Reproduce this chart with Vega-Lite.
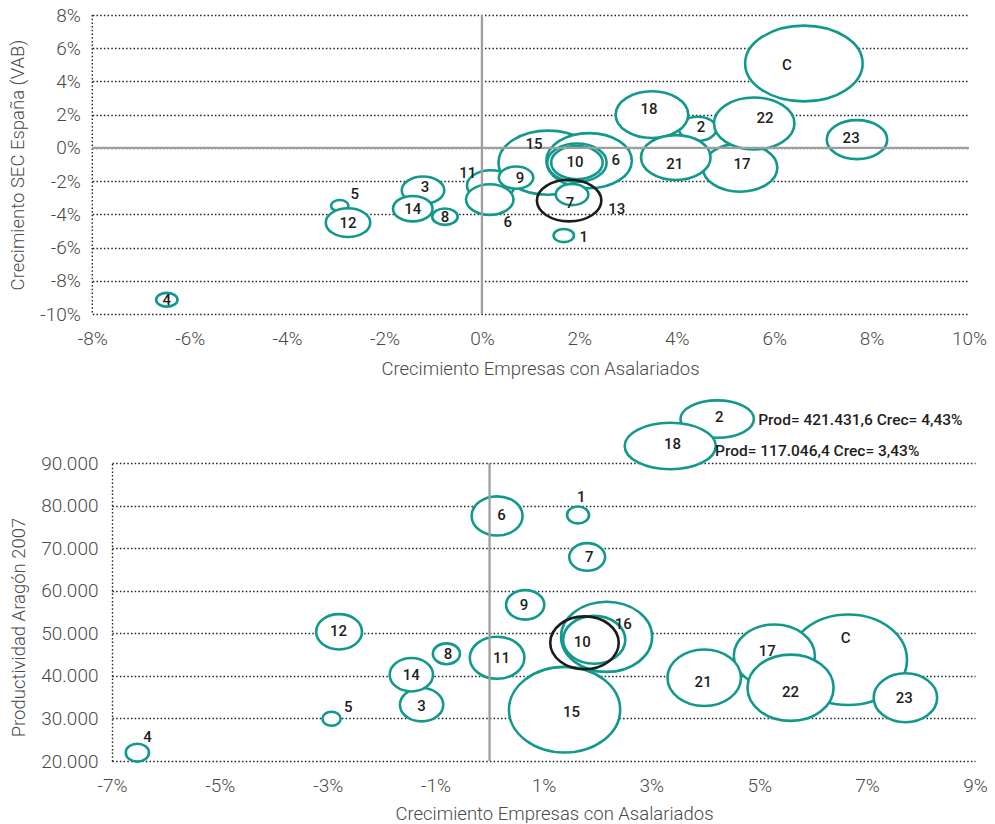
{
  "$schema": "https://vega.github.io/schema/vega-lite/v6.json",
  "padding": {"left": 8, "top": 6, "right": 5, "bottom": 0},
  "config": {
    "view": {"stroke": null},
    "font": "Roboto",
    "axis": {
      "labelFont": "Roboto", "labelFontWeight": 300, "labelFontSize": 19, "labelColor": "#4a4a4a",
      "titleFont": "Roboto", "titleFontWeight": 300, "titleFontSize": 18.5, "titleColor": "#4a4a4a",
      "ticks": false, "tickCount": 40, "labelOverlap": false, "labelFlush": false
    },
    "axisX": {"grid": false, "domain": false, "labelPadding": 15, "titlePadding": 11},
    "axisY": {
      "grid": true, "gridDash": [1.5, 2.2], "gridColor": "#222222", "gridWidth": 1.4,
      "domain": true, "domainDash": [1.5, 2.2], "domainColor": "#222222", "domainWidth": 1.4
    }
  },
  "datasets": {
    "burbujas": [
      {"id":"C","lab1":"C","lab2":"C","x1":6.61,"y1":5.08,"t1":100,"lx1":6.26,"ly1":5.02,"x2":6.65,"y2":43780,"t2":100,"lx2":6.60,"ly2":48950,"fuera":false},
      {"id":"15","lab1":"15","lab2":"15","x1":1.36,"y1":-0.89,"t1":71.7,"lx1":1.07,"ly1":0.26,"x2":1.39,"y2":32050,"t2":89.6,"lx2":1.52,"ly2":31590,"fuera":false},
      {"id":"16","lab1":"6","lab2":"16","x1":2.20,"y1":-0.77,"t1":52.9,"lx1":2.75,"ly1":-0.70,"x2":2.17,"y2":49170,"t2":60.1,"lx2":2.48,"ly2":52230,"fuera":false},
      {"id":"17","lab1":"17","lab2":"17","x1":5.30,"y1":-1.19,"t1":40.2,"lx1":5.34,"ly1":-0.95,"x2":5.28,"y2":44720,"t2":47.6,"lx2":5.15,"ly2":45900,"fuera":false},
      {"id":"2","lab1":"2","lab2":"2","x1":4.43,"y1":1.15,"t1":10.2,"lx1":4.50,"ly1":1.28,"x2":4.22,"y2":100320,"t2":39.1,"lx2":4.26,"ly2":100790,"fuera":true},
      {"id":"18","lab1":"18","lab2":"18","x1":3.49,"y1":2.0,"t1":38.1,"lx1":3.43,"ly1":2.36,"x2":3.35,"y2":93990,"t2":60.1,"lx2":3.39,"ly2":94460,"fuera":true},
      {"id":"21","lab1":"21","lab2":"21","x1":3.98,"y1":-0.58,"t1":35.0,"lx1":3.96,"ly1":-0.95,"x2":3.98,"y2":39550,"t2":39.1,"lx2":3.96,"ly2":38620,"fuera":false},
      {"id":"22","lab1":"22","lab2":"22","x1":5.59,"y1":1.47,"t1":46.9,"lx1":5.81,"ly1":1.82,"x2":5.58,"y2":37210,"t2":53.7,"lx2":5.58,"ly2":36280,"fuera":false},
      {"id":"23","lab1":"23","lab2":"23","x1":7.70,"y1":0.50,"t1":26.5,"lx1":7.58,"ly1":0.62,"x2":7.71,"y2":34860,"t2":29.2,"lx2":7.69,"ly2":34870,"fuera":false},
      {"id":"11","lab1":"11","lab2":"11","x1":0.18,"y1":-2.27,"t1":16.3,"lx1":-0.29,"ly1":-1.49,"x2":0.14,"y2":44250,"t2":21.6,"lx2":0.22,"ly2":44250,"fuera":false},
      {"id":"6","lab1":"6","lab2":"6","x1":0.16,"y1":-3.11,"t1":16.3,"lx1":0.53,"ly1":-4.44,"x2":0.14,"y2":77560,"t2":18.8,"lx2":0.22,"ly2":77800,"fuera":false},
      {"id":"9","lab1":"9","lab2":"9","x1":0.70,"y1":-1.79,"t1":8.6,"lx1":0.78,"ly1":-1.79,"x2":0.66,"y2":56680,"t2":10.6,"lx2":0.64,"ly2":56690,"fuera":false},
      {"id":"10b","lab1":"","lab2":"","x1":1.95,"y1":-0.89,"t1":25.6,"lx1":1.95,"ly1":-0.89,"x2":null,"y2":null,"t2":null,"lx2":null,"ly2":null,"fuera":false},
      {"id":"10","lab1":"10","lab2":"10","x1":1.95,"y1":-0.89,"t1":19.2,"lx1":1.91,"ly1":-0.83,"x2":1.94,"y2":48470,"t2":28.0,"lx2":1.72,"ly2":48010,"fuera":false},
      {"id":"7","lab1":"7","lab2":"7","x1":1.85,"y1":-2.81,"t1":7.7,"lx1":1.81,"ly1":-3.3,"x2":1.81,"y2":67940,"t2":9.3,"lx2":1.85,"ly2":67950,"fuera":false},
      {"id":"1","lab1":"1","lab2":"1","x1":1.68,"y1":-5.28,"t1":3.0,"lx1":2.09,"ly1":-5.34,"x2":1.64,"y2":77800,"t2":3.5,"lx2":1.70,"ly2":82020,"fuera":false},
      {"id":"5","lab1":"5","lab2":"5","x1":-2.92,"y1":-3.48,"t1":2.2,"lx1":-2.61,"ly1":-2.76,"x2":-2.93,"y2":29930,"t2":2.4,"lx2":-2.62,"ly2":32760,"fuera":false},
      {"id":"12","lab1":"12","lab2":"12","x1":-2.75,"y1":-4.5,"t1":14.3,"lx1":-2.75,"ly1":-4.5,"x2":-2.79,"y2":50350,"t2":15.2,"lx2":-2.80,"ly2":50590,"fuera":false},
      {"id":"3","lab1":"3","lab2":"3","x1":-1.21,"y1":-2.55,"t1":13.1,"lx1":-1.17,"ly1":-2.33,"x2":-1.26,"y2":33220,"t2":13.6,"lx2":-1.26,"ly2":32990,"fuera":false},
      {"id":"14","lab1":"14","lab2":"14","x1":-1.42,"y1":-3.66,"t1":11.3,"lx1":-1.42,"ly1":-3.66,"x2":-1.45,"y2":40260,"t2":13.6,"lx2":-1.45,"ly2":40260,"fuera":false},
      {"id":"8","lab1":"8","lab2":"8","x1":-0.76,"y1":-4.14,"t1":4.7,"lx1":-0.76,"ly1":-4.14,"x2":-0.80,"y2":45190,"t2":5.3,"lx2":-0.77,"ly2":45190,"fuera":false},
      {"id":"4","lab1":"4","lab2":"4","x1":-6.47,"y1":-9.14,"t1":3.3,"lx1":-6.47,"ly1":-9.14,"x2":-6.53,"y2":21960,"t2":3.9,"lx2":-6.34,"ly2":25720,"fuera":false},
      {"id":"13","lab1":"13","lab2":"","x1":1.79,"y1":-3.17,"t1":30.1,"lx1":2.77,"ly1":-3.66,"x2":1.76,"y2":47770,"t2":34.0,"lx2":1.76,"ly2":47770,"fuera":false}
    ],
    "notas": [
      {"texto": "Prod= 421.431,6 Crec= 4,43%", "x": 4.98, "y": 100090},
      {"texto": "Prod= 117.046,4 Crec= 3,43%", "x": 4.18, "y": 92820}
    ]
  },
  "spacing": 17,
  "vconcat": [
    {
      "width": 857,
      "height": 299,
      "data": {"name": "burbujas"},
      "layer": [
        {
          "data": {"values": [{"v": -8}]},
          "mark": {"type": "rule", "color": "#222222", "strokeWidth": 1.4, "strokeDash": [1.5, 2.2]},
          "encoding": {"x": {"field": "v", "type": "quantitative", "scale": {"domain": [-8, 10], "range": [-19.7, 857], "nice": false, "zero": false},
                             "axis": {"values": [-8,-6,-4,-2,0,2,4,6,8,10], "labelExpr": "datum.value + '%'", "title": "Crecimiento Empresas con Asalariados", "titleX": 428}}}
        },
        {
          "mark": {
            "type": "point", "filled": true, "fill": "#ffffff", "opacity": 1, "strokeWidth": 2.6,
            "shape": "M-1,0C-1,-0.356,-0.552,-0.645,0,-0.645C0.552,-0.645,1,-0.356,1,0C1,0.356,0.552,0.645,0,0.645C-0.552,0.645,-1,0.356,-1,0Z"
          },
          "encoding": {
            "x": {"field": "x1", "type": "quantitative", "scale": {"domain": [-8, 10], "range": [-19.7, 857], "nice": false, "zero": false}},
            "y": {"field": "y1", "type": "quantitative", "scale": {"domain": [-10, 8], "nice": false, "zero": false},
                  "axis": {"values": [-10,-8,-6,-4,-2,0,2,4,6,8], "labelExpr": "datum.value + '%'", "title": "Crecimiento SEC España (VAB)", "labelPadding": 31.7, "titlePadding": 12, "domain": false}},
            "size": {"field": "t1", "type": "quantitative", "scale": {"domain": [0, 100], "range": [0, 13806]}, "legend": null},
            "stroke": {"condition": {"test": "datum.id === '13'", "value": "#1c1c1c"}, "value": "#12998b"},
            "fillOpacity": {"condition": {"test": "datum.id === '13'", "value": 0}, "value": 1}
          }
        },
        {
          "data": {"values": [{"v": 0}]},
          "mark": {"type": "rule", "color": "#9e9e9e", "strokeWidth": 2.3},
          "encoding": {"x": {"field": "v", "type": "quantitative", "scale": {"domain": [-8, 10], "range": [-19.7, 857], "nice": false, "zero": false}}}
        },
        {
          "data": {"values": [{"v": 0, "a": -8, "b": 10}]},
          "mark": {"type": "rule", "color": "#9e9e9e", "strokeWidth": 2.3},
          "encoding": {
            "y": {"field": "v", "type": "quantitative", "scale": {"domain": [-10, 8], "nice": false, "zero": false}},
            "x": {"field": "a", "type": "quantitative", "scale": {"domain": [-8, 10], "range": [-19.7, 857], "nice": false, "zero": false}},
            "x2": {"field": "b"}
          }
        },
        {
          "mark": {"type": "text", "font": "Roboto", "fontWeight": 500, "fontSize": 15, "fill": "#1e1e1e", "align": "center", "baseline": "middle"},
          "encoding": {
            "x": {"field": "lx1", "type": "quantitative", "scale": {"domain": [-8, 10], "range": [-19.7, 857], "nice": false, "zero": false}},
            "y": {"field": "ly1", "type": "quantitative", "scale": {"domain": [-10, 8], "nice": false, "zero": false}},
            "text": {"field": "lab1"}
          }
        }
      ]
    },
    {
      "width": 863,
      "height": 298,
      "layer": [
        {
          "data": {"name": "burbujas"},
          "transform": [{"filter": "datum.x2 != null && !datum.fuera"}],
          "mark": {
            "type": "point", "filled": true, "fill": "#ffffff", "opacity": 1, "strokeWidth": 2.6,
            "shape": "M-1,0C-1,-0.425,-0.552,-0.77,0,-0.77C0.552,-0.77,1,-0.425,1,0C1,0.425,0.552,0.77,0,0.77C-0.552,0.77,-1,0.425,-1,0Z"
          },
          "encoding": {
            "x": {"field": "x2", "type": "quantitative", "scale": {"domain": [-7, 9], "nice": false, "zero": false},
                  "axis": {"values": [-7,-5,-3,-1,1,3,5,7,9], "labelExpr": "datum.value + '%'", "title": "Crecimiento Empresas con Asalariados", "titleX": 442, "titlePadding": 9}},
            "y": {"field": "y2", "type": "quantitative", "scale": {"domain": [20000, 90000], "nice": false, "zero": false},
                  "axis": {"values": [20000,30000,40000,50000,60000,70000,80000,90000], "labelExpr": "replace(format(datum.value, ','), ',', '.')", "title": "Productividad Aragón 2007", "labelPadding": 14, "titlePadding": 12, "titleY": 164}},
            "size": {"field": "t2", "type": "quantitative", "scale": {"domain": [0, 100], "range": [0, 8742]}, "legend": null},
            "stroke": {"condition": {"test": "datum.id === '13'", "value": "#1c1c1c"}, "value": "#12998b"},
            "fillOpacity": {"condition": {"test": "datum.id === '13'", "value": 0}, "value": 1}
          }
        },
        {
          "data": {"name": "burbujas"},
          "transform": [{"filter": "datum.x2 != null && datum.fuera"}],
          "mark": {
            "type": "point", "filled": true, "fill": "#ffffff", "opacity": 1, "strokeWidth": 2.6, "stroke": "#12998b",
            "shape": "M-1,0C-1,-0.282,-0.552,-0.51,0,-0.51C0.552,-0.51,1,-0.282,1,0C1,0.282,0.552,0.51,0,0.51C-0.552,0.51,-1,0.282,-1,0Z"
          },
          "encoding": {
            "x": {"field": "x2", "type": "quantitative", "scale": {"domain": [-7, 9], "nice": false, "zero": false}},
            "y": {"field": "y2", "type": "quantitative", "scale": {"domain": [20000, 90000], "nice": false, "zero": false}},
            "size": {"field": "t2", "type": "quantitative", "scale": {"domain": [0, 100], "range": [0, 8742]}, "legend": null}
          }
        },
        {
          "data": {"values": [{"v": 0}]},
          "mark": {"type": "rule", "color": "#9e9e9e", "strokeWidth": 2.3},
          "encoding": {"x": {"field": "v", "type": "quantitative", "scale": {"domain": [-7, 9], "nice": false, "zero": false}}}
        },
        {
          "data": {"name": "burbujas"},
          "transform": [{"filter": "datum.x2 != null"}],
          "mark": {"type": "text", "font": "Roboto", "fontWeight": 500, "fontSize": 15, "fill": "#1e1e1e", "align": "center", "baseline": "middle"},
          "encoding": {
            "x": {"field": "lx2", "type": "quantitative", "scale": {"domain": [-7, 9], "nice": false, "zero": false}},
            "y": {"field": "ly2", "type": "quantitative", "scale": {"domain": [20000, 90000], "nice": false, "zero": false}},
            "text": {"field": "lab2"}
          }
        },
        {
          "data": {"name": "notas"},
          "mark": {"type": "text", "font": "Roboto", "fontWeight": 500, "fontSize": 15.5, "fill": "#1e1e1e", "align": "left", "baseline": "middle"},
          "encoding": {
            "x": {"field": "x", "type": "quantitative", "scale": {"domain": [-7, 9], "nice": false, "zero": false}},
            "y": {"field": "y", "type": "quantitative", "scale": {"domain": [20000, 90000], "nice": false, "zero": false}},
            "text": {"field": "texto"}
          }
        }
      ]
    }
  ]
}
